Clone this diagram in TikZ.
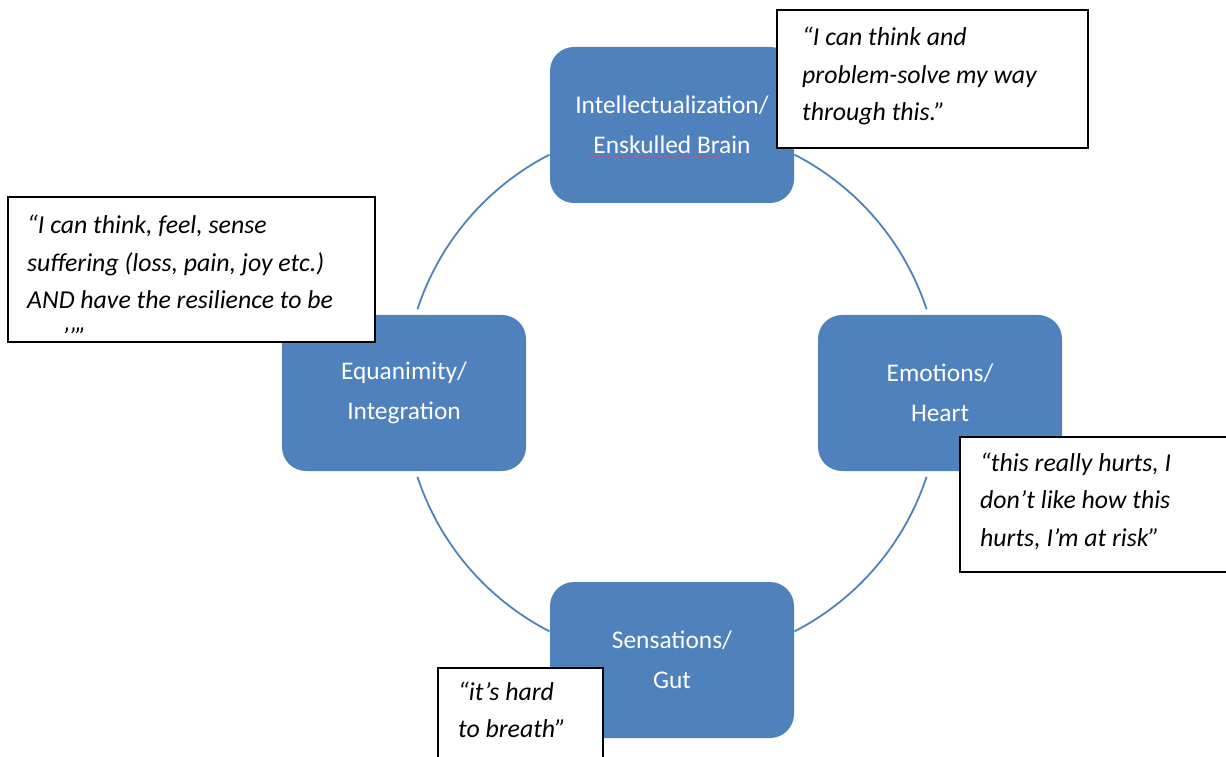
\documentclass[tikz,border=0pt]{standalone}
\usepackage{fontspec}
\setmainfont{Carlito}
\usetikzlibrary{decorations.pathmorphing}
\definecolor{boxblue}{HTML}{4F81BD}
\definecolor{spellred}{HTML}{B05A8C}
\begin{document}
\begin{tikzpicture}[x=1pt,y=1pt,
  stage/.style={rectangle, rounded corners=24pt, fill=boxblue, minimum width=244pt,
    minimum height=156pt, text=white, align=center, inner sep=0pt,
    font=\fontsize{25.4}{40}\selectfont},
  calloutbox/.style={rectangle, draw=black, line width=2pt, fill=white, inner sep=0pt},
  quote/.style={align=left, inner sep=0pt, font=\fontsize{25.8}{37.5}\selectfont\itshape},
  ring/.style={draw=boxblue, line width=1.8pt}]
\useasboundingbox (0,0) rectangle (1226,756);
\coordinate (c) at (672,363);
% ring arcs
\draw[ring] ([shift={(62.8:268)}]c) arc[start angle=62.8, end angle=18.2, radius=268];
\draw[ring] ([shift={(-18.2:268)}]c) arc[start angle=-18.2, end angle=-62.8, radius=268];
\draw[ring] ([shift={(-117.2:268)}]c) arc[start angle=-117.2, end angle=-161.8, radius=268];
\draw[ring] ([shift={(161.8:268)}]c) arc[start angle=161.8, end angle=117.2, radius=268];
% stages
\node[stage] (intel) at (672,631) {Intellectualization/\\Enskulled Brain};
\node[stage] (emo) at (940,363) {Emotions/\\Heart};
\node[stage] (sens) at (672,96) {Sensations/\\Gut};
\node[stage] (equa) at (404,363) {Equanimity/\\Integration};
\draw[spellred, line width=0.8pt, decorate, decoration={snake, amplitude=0.5pt, segment length=3pt}]
  (589,599) -- (722,599);
% callouts
\node[calloutbox, minimum width=311pt, minimum height=138pt] (q1) at (932.5,677) {};
\node[quote, anchor=west] (q1t) at (802,680) {“I can think and\\problem-solve my way\\through this.”};
\node[calloutbox, minimum width=367pt, minimum height=145pt] (q2) at (191.5,486.5) {};
\node[quote, anchor=west] (q2t) at (27,494) {“I can think, feel, sense\\suffering (loss, pain, joy etc.)\\AND have the resilience to be};
\begin{scope}
  \clip (10,423) rectangle (370,470);
  \node[quote, anchor=base west] (q2e) at (62,410) {’’”};
\end{scope}
\node[calloutbox, minimum width=280pt, minimum height=135pt] (q3) at (1100,251.5) {};
\node[quote, anchor=west] (q3t) at (980,255) {“this really hurts, I\\don’t like how this\\hurts, I’m at risk”};
\node[calloutbox, minimum width=165pt, minimum height=112pt] (q4) at (520.5,32) {};
\node[quote, anchor=west] (q4t) at (458,46) {“it’s hard\\to breath”};
\end{tikzpicture}
\end{document}
